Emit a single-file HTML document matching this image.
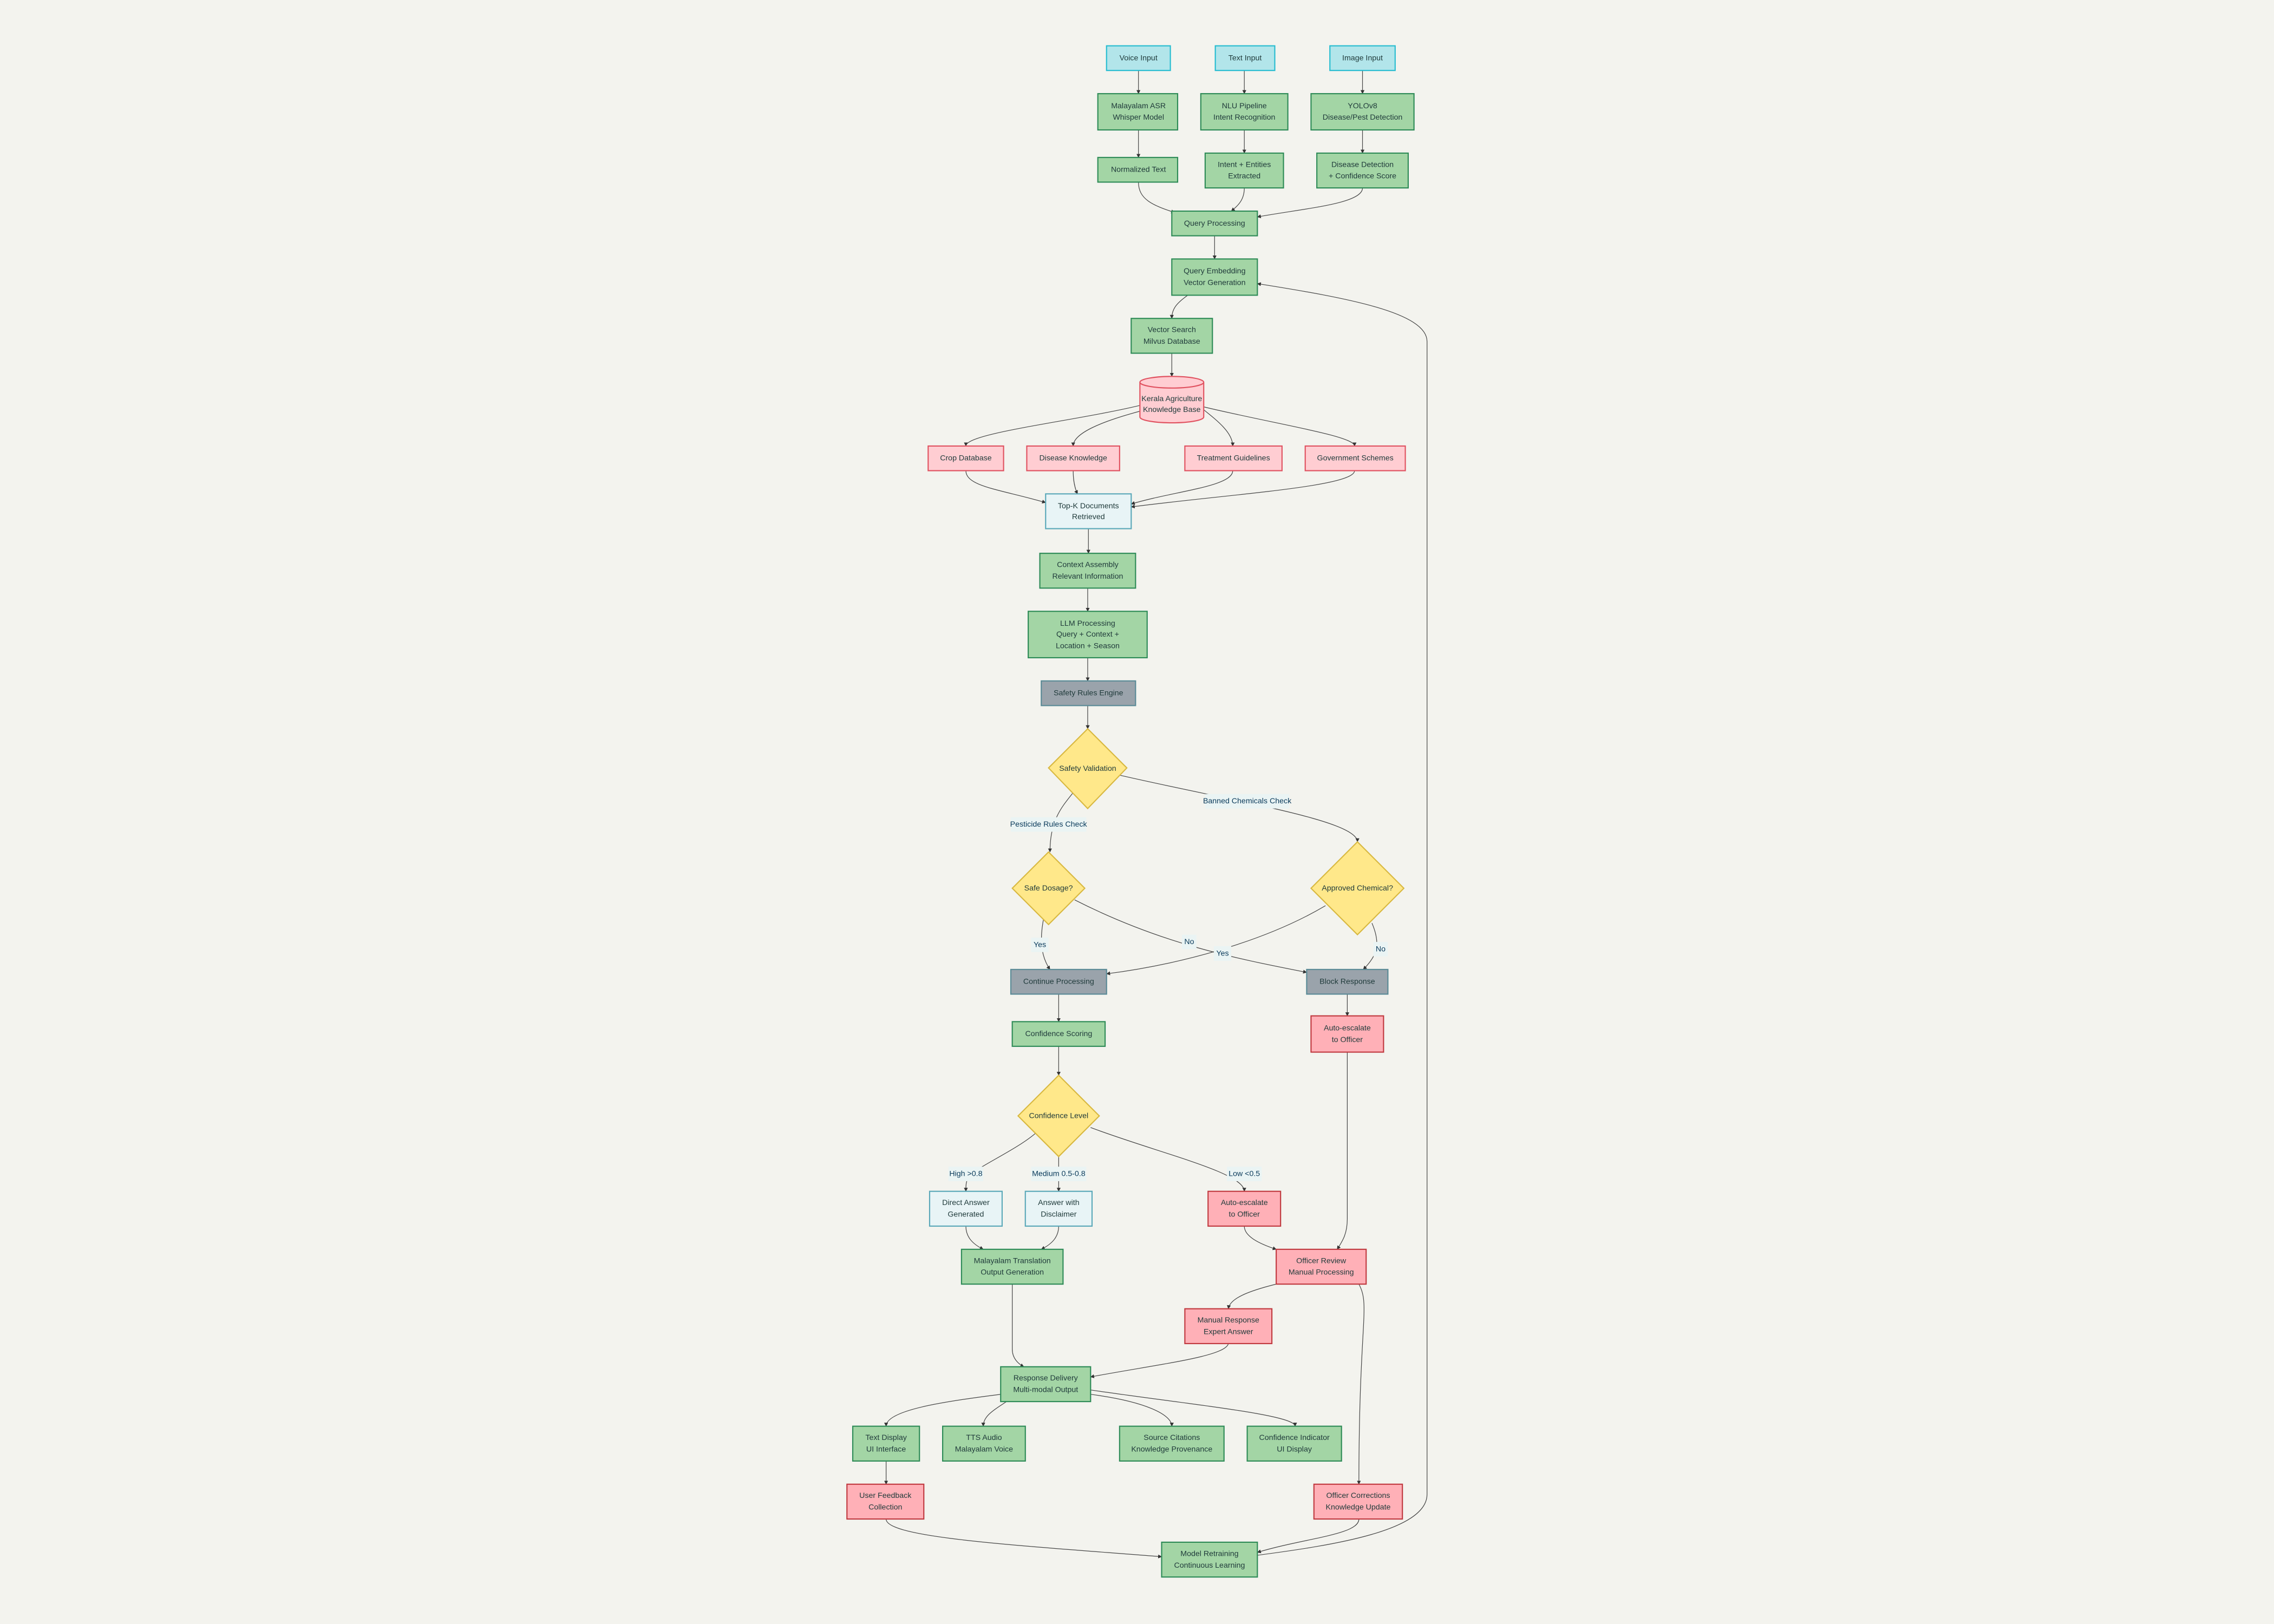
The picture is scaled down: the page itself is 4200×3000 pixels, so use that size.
<!DOCTYPE html>
<html><head><meta charset="utf-8"><style>
html,body{margin:0;padding:0;background:#f3f3ee;}
svg{display:block}
text{font-family:"Liberation Sans",Arial,sans-serif;font-size:5.3px;fill:#1f3a3a;text-anchor:middle;dominant-baseline:central}
.e{fill:none;stroke:#444;stroke-width:0.45}
.lbl{fill:#eaf4f4}
.lt{fill:#0a3a5a}
</style></head><body>
<svg width="4200" height="3000" viewBox="0 0 1568 1120" xmlns="http://www.w3.org/2000/svg">
<defs><marker id="a" viewBox="0 0 10 10" refX="9" refY="5" markerWidth="6" markerHeight="6" orient="auto"><path d="M0,0 L10,5 L0,10 z" fill="#333"/></marker></defs>
<rect width="1568" height="1120" fill="#f3f3ee"/>

<g transform="translate(0,0.6)">
<!-- edges -->
<g class="e" marker-end="url(#a)">
<path d="M785,48 V64"/><path d="M858,48 V64"/><path d="M939.5,48 V64"/>
<path d="M785,89 V108"/><path d="M858,89 V105"/><path d="M939.5,89 V105"/>
<path d="M785,125 C785,137 795,141 810,146"/>
<path d="M858,129 C858,137 854,141 849,145"/>
<path d="M939.5,129 C939.5,140 900,143 867,149"/>
<path d="M837.5,162 V178"/>
<path d="M819,203 C812,208 808,212 808,219"/>
<path d="M808,243 V259"/>
<path d="M786,279 C740,290 666,298 666,307"/>
<path d="M786,283 C760,290 740,298 740,307"/>
<path d="M830,282 C840,290 850,298 850,307"/>
<path d="M830,280 C880,292 934,300 934,307"/>
<path d="M666,324 C666,335 690,337 721,346"/>
<path d="M740,324 C740,330 741,336 743,340"/>
<path d="M850,324 C850,335 810,338 780,347"/>
<path d="M934,324 C934,335 850,340 780,349"/>
<path d="M750.5,364 V381"/><path d="M750,405 V421"/><path d="M750,453 V469"/><path d="M750,486 V502"/>
<path d="M740,546 C732,556 724,565 724,587"/>
<path d="M772,534 C850,552 936,565 936,580"/>
<path d="M720,631 C717,645 717,658 724,668"/>
<path d="M741,620 C800,650 850,660 901,670"/>
<path d="M914,624 C870,650 810,665 763,671"/>
<path d="M946,636 C952,650 950,658 940,668"/>
<path d="M730,685 V704"/><path d="M929,685 V700"/><path d="M730,721 V741"/>
<path d="M714,781 C700,793 672,805 668,811 C666,814 666,817 666,821"/>
<path d="M730,797 V821"/>
<path d="M752,777 C800,795 858,808 858,821"/>
<path d="M666,845 C666,852 670,857 678,861"/>
<path d="M730,845 C730,852 726,857 718,861"/>
<path d="M858,845 C858,852 868,857 880,861"/>
<path d="M929,725 V840 C929,850 926,855 922,861"/>
<path d="M880,885 C860,890 848,895 847,902"/>
<path d="M698,885 V930 C698,936 702,940 706,942"/>
<path d="M847,926 C845,935 800,940 752,949"/>
<path d="M690,961 C650,966 611,972 611,983"/>
<path d="M694,966 C685,972 678,976 678,983"/>
<path d="M752,961 C790,966 808,975 808,983"/>
<path d="M752,958 C820,968 893,975 893,983"/>
<path d="M611,1007 V1023"/>
<path d="M937,885 C945,900 937,910 937,1023"/>
<path d="M611,1047 C611,1060 700,1065 801,1073"/>
<path d="M937,1047 C937,1058 900,1060 867,1070"/>
<path d="M867,1072 C920,1065 984,1055 984,1030 V235 C984,215 930,205 867,195"/>
</g>

<!-- edge labels -->
<g>
<rect class="lbl" x="697" y="563" width="52" height="10"/><text class="lt" x="723" y="568">Pesticide Rules Check</text>
<rect class="lbl" x="831" y="547" width="58" height="10"/><text class="lt" x="860" y="552">Banned Chemicals Check</text>
<rect class="lbl" x="711" y="646" width="12" height="10"/><text class="lt" x="717" y="651">Yes</text>
<rect class="lbl" x="815" y="644" width="10" height="10"/><text class="lt" x="820" y="649">No</text>
<rect class="lbl" x="837" y="652" width="12" height="10"/><text class="lt" x="843" y="657">Yes</text>
<rect class="lbl" x="947" y="649" width="10" height="10"/><text class="lt" x="952" y="654">No</text>
<rect class="lbl" x="654" y="804" width="24" height="10"/><text class="lt" x="666" y="809">High &gt;0.8</text>
<rect class="lbl" x="711" y="804" width="38" height="10"/><text class="lt" x="730" y="809">Medium 0.5-0.8</text>
<rect class="lbl" x="846" y="804" width="24" height="10"/><text class="lt" x="858" y="809">Low &lt;0.5</text>
</g>

<!-- nodes -->
<g stroke-width="0.8">
<g fill="#b2e5ea" stroke="#26bcd0">
<rect x="763" y="31" width="44" height="17"/><rect x="838" y="31" width="41" height="17"/><rect x="917" y="31" width="45" height="17"/>
</g>
<g fill="#a3d5a5" stroke="#2e8b57">
<rect x="757" y="64" width="55" height="25"/><rect x="828" y="64" width="60" height="25"/><rect x="904" y="64" width="71" height="25"/>
<rect x="757" y="108" width="55" height="17"/><rect x="831" y="105" width="54" height="24"/><rect x="908" y="105" width="63" height="24"/>
<rect x="808" y="145" width="59" height="17"/><rect x="808" y="178" width="59" height="25"/><rect x="780" y="219" width="56" height="24"/>
<rect x="717" y="381" width="66" height="24"/><rect x="709" y="421" width="82" height="32"/>
<rect x="698" y="704" width="64" height="17"/><rect x="663" y="861" width="70" height="24"/><rect x="690" y="942" width="62" height="24"/>
<rect x="588" y="983" width="46" height="24"/><rect x="650" y="983" width="57" height="24"/><rect x="772" y="983" width="72" height="24"/><rect x="860" y="983" width="65" height="24"/>
<rect x="801" y="1063" width="66" height="24"/>
</g>
<g fill="#ffcdd2" stroke="#e05260">
<rect x="640" y="307" width="52" height="17"/><rect x="708" y="307" width="64" height="17"/><rect x="817" y="307" width="67" height="17"/><rect x="900" y="307" width="69" height="17"/>
<path d="M786,263 V287 A22,4 0 0 0 830,287 V263 A22,4 0 0 0 786,263 A22,4 0 0 0 830,263"/>
</g>
<g fill="#ffb0b7" stroke="#c0393f">
<rect x="904" y="700" width="50" height="25"/><rect x="833" y="821" width="50" height="24"/><rect x="880" y="861" width="62" height="24"/>
<rect x="817" y="902" width="60" height="24"/><rect x="584" y="1023" width="53" height="24"/><rect x="906" y="1023" width="61" height="24"/>
</g>
<g fill="#e8f4f6" stroke="#5aa8b8">
<rect x="721" y="340" width="59" height="24"/><rect x="641" y="821" width="50" height="24"/><rect x="707" y="821" width="46" height="24"/>
</g>
<g fill="#9aa3ab" stroke="#5a8a96">
<rect x="718" y="469" width="65" height="17"/><rect x="697" y="668" width="66" height="17"/><rect x="901" y="668" width="56" height="17"/>
</g>
<g fill="#ffe88a" stroke="#d8b840">
<path d="M750,502 L777,529 L750,557 L723,529 Z"/>
<path d="M723,587 L748,612 L723,637 L698,612 Z"/>
<path d="M936,580 L968,612 L936,644 L904,612 Z"/>
<path d="M730,741 L758,769 L730,797 L702,769 Z"/>
</g>
</g>

<!-- node text -->
<g>
<text x="785" y="39.5">Voice Input</text><text x="858.5" y="39.5">Text Input</text><text x="939.5" y="39.5">Image Input</text>
<text x="785" y="72.5">Malayalam ASR</text><text x="785" y="80.5">Whisper Model</text>
<text x="858" y="72.5">NLU Pipeline</text><text x="858" y="80.5">Intent Recognition</text>
<text x="939.5" y="72.5">YOLOv8</text><text x="939.5" y="80.5">Disease/Pest Detection</text>
<text x="785" y="116.5">Normalized Text</text>
<text x="858" y="113">Intent + Entities</text><text x="858" y="121">Extracted</text>
<text x="939.5" y="113">Disease Detection</text><text x="939.5" y="121">+ Confidence Score</text>
<text x="837.5" y="153.5">Query Processing</text>
<text x="837.5" y="186.5">Query Embedding</text><text x="837.5" y="194.5">Vector Generation</text>
<text x="808" y="227">Vector Search</text><text x="808" y="235">Milvus Database</text>
<text x="808" y="274.5">Kerala Agriculture</text><text x="808" y="282">Knowledge Base</text>
<text x="666" y="315.5">Crop Database</text><text x="740" y="315.5">Disease Knowledge</text><text x="850.5" y="315.5">Treatment Guidelines</text><text x="934.5" y="315.5">Government Schemes</text>
<text x="750.5" y="348.5">Top-K Documents</text><text x="750.5" y="356">Retrieved</text>
<text x="750" y="389">Context Assembly</text><text x="750" y="397">Relevant Information</text>
<text x="750" y="429.5">LLM Processing</text><text x="750" y="437">Query + Context +</text><text x="750" y="445">Location + Season</text>
<text x="750.5" y="477.5">Safety Rules Engine</text>
<text x="750" y="529.5">Safety Validation</text>
<text x="723" y="612">Safe Dosage?</text>
<text x="936" y="612">Approved Chemical?</text>
<text x="730" y="676.5">Continue Processing</text><text x="929" y="676.5">Block Response</text>
<text x="730" y="712.5">Confidence Scoring</text>
<text x="929" y="708.5">Auto-escalate</text><text x="929" y="716.5">to Officer</text>
<text x="730" y="769">Confidence Level</text>
<text x="666" y="829">Direct Answer</text><text x="666" y="837">Generated</text>
<text x="730" y="829">Answer with</text><text x="730" y="837">Disclaimer</text>
<text x="858" y="829">Auto-escalate</text><text x="858" y="837">to Officer</text>
<text x="698" y="869">Malayalam Translation</text><text x="698" y="877">Output Generation</text>
<text x="911" y="869">Officer Review</text><text x="911" y="877">Manual Processing</text>
<text x="847" y="910">Manual Response</text><text x="847" y="918">Expert Answer</text>
<text x="721" y="950">Response Delivery</text><text x="721" y="958">Multi-modal Output</text>
<text x="611" y="991">Text Display</text><text x="611" y="999">UI Interface</text>
<text x="678.5" y="991">TTS Audio</text><text x="678.5" y="999">Malayalam Voice</text>
<text x="808" y="991">Source Citations</text><text x="808" y="999">Knowledge Provenance</text>
<text x="892.5" y="991">Confidence Indicator</text><text x="892.5" y="999">UI Display</text>
<text x="610.5" y="1031">User Feedback</text><text x="610.5" y="1039">Collection</text>
<text x="936.5" y="1031">Officer Corrections</text><text x="936.5" y="1039">Knowledge Update</text>
<text x="834" y="1071">Model Retraining</text><text x="834" y="1079">Continuous Learning</text>
</g>
</g>
</svg>
</body></html>
